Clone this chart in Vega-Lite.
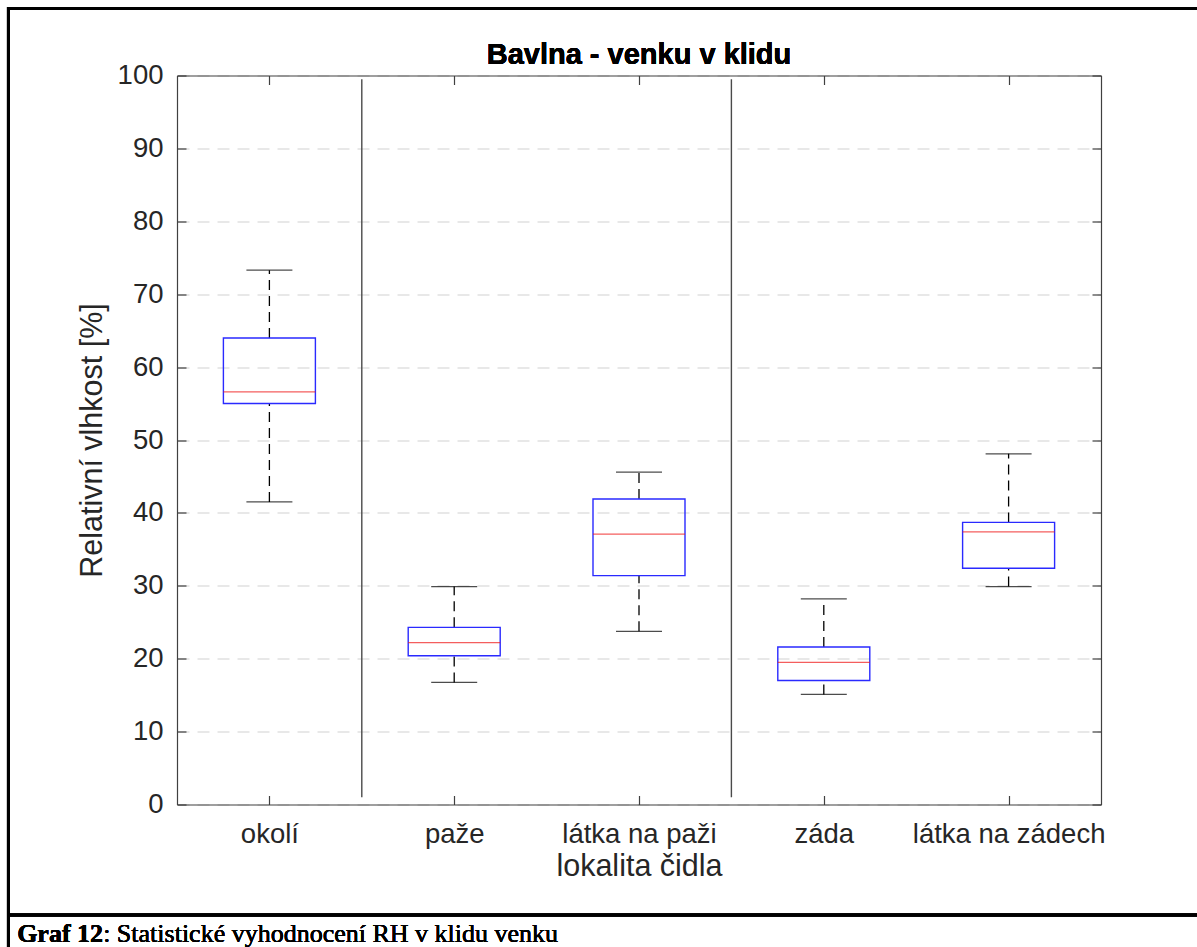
{
  "$schema": "https://vega.github.io/schema/vega-lite/v6.json",
  "width": 924,
  "height": 729,
  "autosize": {"type": "none"},
  "padding": {"left": 177, "top": 75.5, "right": 96, "bottom": 142.5},
  "background": "white",
  "config": {
    "view": {"stroke": null},
    "font": "Liberation Sans",
    "axis": {"domainColor": "#404040", "domainWidth": 1.2, "tickColor": "#404040", "tickWidth": 1.2}
  },
  "data": {
    "values": [
      {"grp": "okolí", "pos": 1, "lo": 41.5, "q1": 55.0, "med": 56.6, "q3": 64.0, "hi": 73.3},
      {"grp": "paže", "pos": 2, "lo": 16.75, "q1": 20.4, "med": 22.2, "q3": 24.3, "hi": 29.9},
      {"grp": "látka na paži", "pos": 3, "lo": 23.75, "q1": 31.4, "med": 37.1, "q3": 41.9, "hi": 45.6},
      {"grp": "záda", "pos": 4, "lo": 15.1, "q1": 17.0, "med": 19.5, "q3": 21.6, "hi": 28.2},
      {"grp": "látka na zádech", "pos": 5, "lo": 29.9, "q1": 32.4, "med": 37.4, "q3": 38.7, "hi": 48.1}
    ]
  },
  "resolve": {"axis": {"x": "independent", "y": "independent"}},
  "layer": [
    {
      "mark": {"type": "rule", "color": "#000000", "strokeWidth": 1.3, "strokeDash": [10, 6]},
      "encoding": {
        "x": {
          "field": "pos", "type": "quantitative",
          "scale": {"domain": [0.5, 5.5], "nice": false, "zero": false, "padding": 0},
          "axis": {
            "orient": "bottom",
            "values": [1, 2, 3, 4, 5],
            "labelExpr": "['okolí','paže','látka na paži','záda','látka na zádech'][datum.value - 1]",
            "labelLimit": 0,
            "tickSize": -9,
            "labelPadding": 25,
            "labelFontSize": 27.5,
            "labelColor": "#262626",
            "grid": false,
            "title": "lokalita čidla",
            "titleFontSize": 30.5,
            "titleFontWeight": "normal",
            "titleColor": "#262626",
            "titlePadding": 3
          }
        },
        "y": {
          "field": "q3", "type": "quantitative",
          "scale": {"domain": [0, 100], "nice": false, "zero": false, "padding": 0},
          "axis": {
            "orient": "left",
            "values": [0, 10, 20, 30, 40, 50, 60, 70, 80, 90, 100],
            "tickSize": -9,
            "labelPadding": 23,
            "labelFontSize": 27.5,
            "labelColor": "#262626",
            "grid": true,
            "gridColor": "#d2d2d2",
            "gridWidth": 1.2,
            "gridDash": [12, 8],
            "title": "Relativní vlhkost [%]",
            "titleFontSize": 30.5,
            "titleFontWeight": "normal",
            "titleColor": "#262626",
            "titlePadding": 10
          }
        },
        "y2": {"field": "hi"}
      }
    },
    {
      "mark": {"type": "rule", "color": "#000000", "strokeWidth": 1.3, "strokeDash": [10, 6]},
      "encoding": {
        "x": {"field": "pos", "type": "quantitative", "axis": null},
        "y": {"field": "lo", "type": "quantitative", "axis": null},
        "y2": {"field": "q1"}
      }
    },
    {
      "mark": {"type": "tick", "orient": "horizontal", "color": "#000000", "size": 46, "thickness": 1.3},
      "encoding": {
        "x": {
          "field": "pos", "type": "quantitative",
          "axis": {"orient": "top", "values": [1, 2, 3, 4, 5], "labels": false, "tickSize": -9, "grid": false, "title": null}
        },
        "y": {
          "field": "hi", "type": "quantitative",
          "axis": {"orient": "right", "values": [0, 10, 20, 30, 40, 50, 60, 70, 80, 90, 100], "labels": false, "tickSize": -9, "grid": false, "title": null}
        }
      }
    },
    {
      "mark": {"type": "tick", "orient": "horizontal", "color": "#000000", "size": 46, "thickness": 1.3},
      "encoding": {
        "x": {"field": "pos", "type": "quantitative", "axis": null},
        "y": {"field": "lo", "type": "quantitative", "axis": null}
      }
    },
    {
      "mark": {"type": "bar", "orient": "vertical", "size": 92, "fill": null, "fillOpacity": 0, "stroke": "#2a2aff", "strokeWidth": 1.4},
      "encoding": {
        "x": {"field": "pos", "type": "quantitative", "axis": null},
        "y": {"field": "q1", "type": "quantitative", "axis": null},
        "y2": {"field": "q3"}
      }
    },
    {
      "mark": {"type": "tick", "orient": "horizontal", "color": "#f01a1a", "size": 92, "thickness": 1.3},
      "encoding": {
        "x": {"field": "pos", "type": "quantitative", "axis": null},
        "y": {"field": "med", "type": "quantitative", "axis": null}
      }
    },
    {
      "data": {"values": [{"divider": 1.5}, {"divider": 3.5}]},
      "mark": {"type": "rule", "color": "#4a4a4a", "strokeWidth": 1.4},
      "encoding": {
        "x": {"field": "divider", "type": "quantitative", "axis": null},
        "y": {"datum": 1, "type": "quantitative", "axis": null},
        "y2": {"datum": 99.5}
      }
    },
    {
      "mark": {"type": "text", "text": "Bavlna - venku v klidu", "font": "Liberation Sans", "fontSize": 29, "fontWeight": "bold", "color": "#000000", "align": "center", "baseline": "alphabetic", "dy": -12, "clip": false},
      "encoding": {
        "x": {"datum": 3, "type": "quantitative", "axis": null},
        "y": {"datum": 100, "type": "quantitative", "axis": null}
      }
    },
    {
      "mark": {"type": "rect", "fill": null, "stroke": "#000000", "strokeWidth": 3, "clip": false},
      "encoding": {
        "x": {"datum": -0.412, "type": "quantitative", "axis": null},
        "x2": {"datum": 6.4},
        "y": {"datum": 109.2, "type": "quantitative", "axis": null},
        "y2": {"datum": -26}
      }
    },
    {
      "mark": {"type": "rule", "color": "#000000", "strokeWidth": 3, "clip": false},
      "encoding": {
        "x": {"datum": -0.412, "type": "quantitative", "axis": null},
        "x2": {"datum": 6.4},
        "y": {"datum": -15.16, "type": "quantitative", "axis": null}
      }
    },
    {
      "mark": {"type": "text", "text": "Graf 12", "font": "Liberation Serif", "fontSize": 26, "fontWeight": "bold", "color": "#000000", "align": "left", "baseline": "alphabetic", "clip": false},
      "encoding": {
        "x": {"datum": -0.365, "type": "quantitative", "axis": null},
        "y": {"datum": -18.8, "type": "quantitative", "axis": null}
      }
    },
    {
      "mark": {"type": "text", "text": ": Statistické vyhodnocení RH v klidu venku", "font": "Liberation Serif", "fontSize": 26, "color": "#000000", "align": "left", "baseline": "alphabetic", "dx": 86, "clip": false},
      "encoding": {
        "x": {"datum": -0.365, "type": "quantitative", "axis": null},
        "y": {"datum": -18.8, "type": "quantitative", "axis": null}
      }
    }
  ]
}
